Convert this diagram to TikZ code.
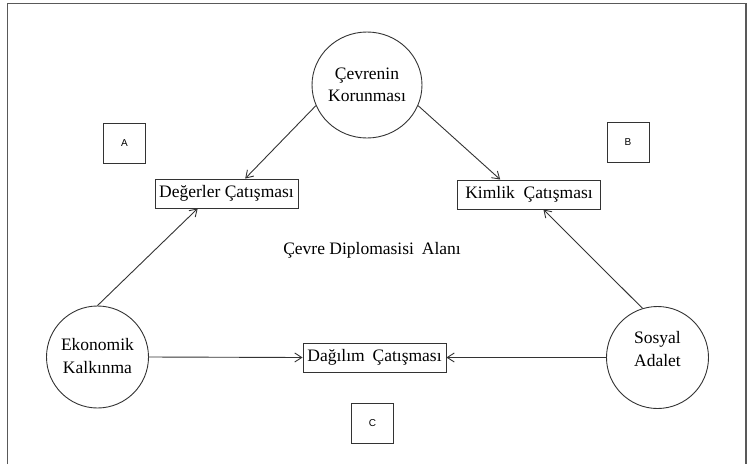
\documentclass[tikz,border=0pt]{standalone}
\usepackage{fontspec}
\setmainfont{Liberation Serif}
\newfontfamily\lsans{Liberation Sans}
\usetikzlibrary{arrows.meta,calc,shapes.geometric}
\definecolor{ink}{HTML}{333333}
\tikzset{
  circ/.style={circle,draw=ink,line width=0.9pt,minimum size=102pt,inner sep=0pt,align=center,
    font=\fontsize{17.5}{23}\selectfont},
  topcirc/.style={ellipse,draw=ink,line width=0.9pt,minimum width=102pt,minimum height=106pt,inner sep=0pt,align=center,
    font=\fontsize{17.5}{22}\selectfont},
  cbox/.style={rectangle,draw=ink,line width=0.9pt,minimum width=143pt,minimum height=29pt,inner sep=0pt,
    font=\fontsize{17.5}{21}\selectfont},
  letterbox/.style={rectangle,draw=ink,line width=0.9pt,minimum width=42pt,minimum height=40pt,inner sep=0pt,
    font=\lsans\fontsize{10}{12}\selectfont},
  ctext/.style={align=center,inner sep=0pt,font=\fontsize{17.5}{23}\selectfont},
  conn/.style={draw=ink,line width=0.9pt,-{Straight Barb[length=7pt,width=9pt,line width=0.9pt]}},
  frameline/.style={draw=black!65,line width=1.2pt}
}
\begin{document}
\begin{tikzpicture}[x=1pt,y=-1pt]
\useasboundingbox (0,0) rectangle (753,464);
% frame
\coordinate (f1) at (7.5,464);
\coordinate (f2) at (7.5,3.5);
\coordinate (f3) at (746,3.5);
\coordinate (f4) at (746,464);
\draw[frameline] (f1) -- (f2) -- (f3) -- (f4);

% circles
\node[topcirc] (top) at (367,85) {Çevrenin\\Korunması};
\node[circ] (eko) at (97.5,357) {};
\node[ctext] (ekoT) at (97.5,356.5) {Ekonomik\\Kalkınma};
\node[circ] (sos) at (657.5,357.5) {};
\node[ctext] (sosT) at (657.5,349) {Sosyal\\Adalet};

% boxes
\node[cbox] (deg) at (226.5,193.5) {Değerler Çatışması};
\node[cbox] (kim) at (529,194.5) {Kimlik\hspace{0.25em} Çatışması};
\node[cbox] (dag) at (374.5,357.5) {Dağılım\hspace{0.2em} Çatışması};

% letter boxes
\node[letterbox] (A) at (124.5,143) {A};
\node[letterbox] (B) at (628,142) {B};
\node[letterbox] (C) at (372.5,423) {C};

% center label
\node[inner sep=0pt,font=\fontsize{17.5}{21}\selectfont] (area) at (372,250) {Çevre Diplomasisi\hspace{0.2em} Alanı};

% connectors
\coordinate (degT) at ($(deg.north west)!0.63!(deg.north east)$);
\coordinate (degB) at ($(deg.south west)!0.30!(deg.south east)$);
\coordinate (kimT) at ($(kim.north west)!0.30!(kim.north east)$);
\coordinate (kimB) at ($(kim.south west)!0.60!(kim.south east)$);
\draw[conn] (top.202) -- (degT);
\draw[conn] (top.338) -- (kimT);
\draw[conn] (eko.90) -- (degB);
\draw[conn] (sos.107) -- (kimB);
\draw[conn] (eko.east) -- (dag.west);
\draw[conn] (sos.west) -- (dag.east);
\end{tikzpicture}
\end{document}
